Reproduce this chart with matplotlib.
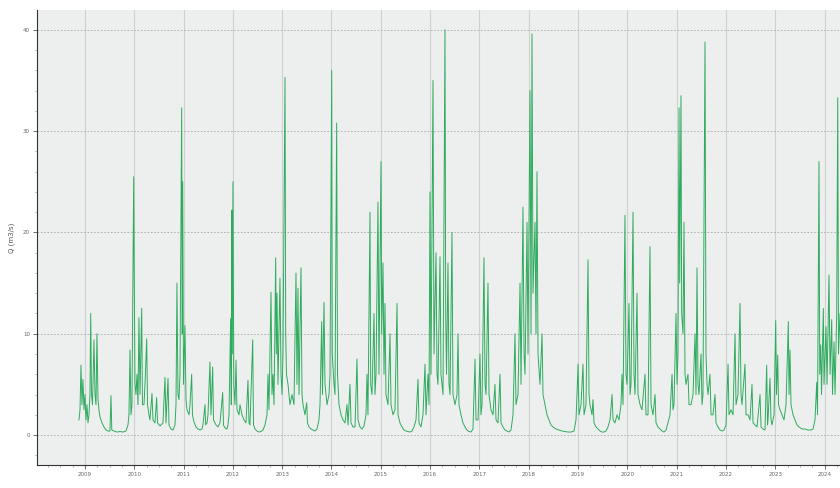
import numpy as np
import matplotlib
matplotlib.use('Agg')
import matplotlib.pyplot as plt
from matplotlib.ticker import MultipleLocator

# discharge record, time in decimal years, Q in m3/s
t = [2008.878, 2008.899, 2008.919, 2008.939, 2008.959, 2008.980, 2009.000, 2009.020, 2009.041, 2009.061,
     2009.081, 2009.101, 2009.116, 2009.132, 2009.152, 2009.183, 2009.203, 2009.223, 2009.243, 2009.264,
     2009.284, 2009.304, 2009.345, 2009.385, 2009.426, 2009.466, 2009.507, 2009.527, 2009.544, 2009.588,
     2009.649, 2009.710, 2009.771, 2009.831, 2009.872, 2009.892, 2009.913, 2009.933, 2009.953, 2009.988,
     2010.000, 2010.014, 2010.034, 2010.055, 2010.075, 2010.095, 2010.116, 2010.150, 2010.166, 2010.197,
     2010.217, 2010.252, 2010.268, 2010.298, 2010.318, 2010.359, 2010.379, 2010.420, 2010.454, 2010.471,
     2010.521, 2010.582, 2010.623, 2010.643, 2010.684, 2010.704, 2010.744, 2010.785, 2010.825, 2010.846,
     2010.866, 2010.886, 2010.907, 2010.927, 2010.961, 2010.973, 2010.982, 2010.998, 2011.028, 2011.049,
     2011.069, 2011.110, 2011.130, 2011.164, 2011.180, 2011.211, 2011.252, 2011.292, 2011.333, 2011.373,
     2011.393, 2011.434, 2011.448, 2011.475, 2011.495, 2011.535, 2011.556, 2011.590, 2011.606, 2011.657,
     2011.698, 2011.738, 2011.793, 2011.809, 2011.840, 2011.880, 2011.901, 2011.921, 2011.955, 2011.968,
     2011.976, 2011.988, 2012.002, 2012.018, 2012.043, 2012.063, 2012.083, 2012.124, 2012.144, 2012.185,
     2012.225, 2012.266, 2012.306, 2012.327, 2012.347, 2012.402, 2012.418, 2012.448, 2012.489, 2012.529,
     2012.570, 2012.611, 2012.651, 2012.692, 2012.712, 2012.732, 2012.773, 2012.793, 2012.813, 2012.834,
     2012.868, 2012.880, 2012.895, 2012.915, 2012.955, 2012.976, 2012.996, 2013.016, 2013.057, 2013.071,
     2013.087, 2013.118, 2013.158, 2013.199, 2013.239, 2013.280, 2013.300, 2013.320, 2013.341, 2013.381,
     2013.402, 2013.422, 2013.462, 2013.497, 2013.513, 2013.544, 2013.584, 2013.625, 2013.665, 2013.706,
     2013.746, 2013.767, 2013.801, 2013.817, 2013.848, 2013.868, 2013.909, 2013.949, 2013.970, 2014.004,
     2014.016, 2014.051, 2014.071, 2014.105, 2014.122, 2014.152, 2014.193, 2014.233, 2014.274, 2014.314,
     2014.335, 2014.375, 2014.396, 2014.436, 2014.477, 2014.517, 2014.538, 2014.578, 2014.619, 2014.659,
     2014.700, 2014.720, 2014.740, 2014.781, 2014.795, 2014.821, 2014.862, 2014.882, 2014.903, 2014.943,
     2014.963, 2015.004, 2015.018, 2015.045, 2015.065, 2015.085, 2015.105, 2015.146, 2015.187, 2015.207,
     2015.247, 2015.288, 2015.329, 2015.349, 2015.389, 2015.430, 2015.471, 2015.511, 2015.552, 2015.592,
     2015.633, 2015.673, 2015.714, 2015.754, 2015.775, 2015.815, 2015.856, 2015.897, 2015.917, 2015.957,
     2015.978, 2015.998, 2016.018, 2016.059, 2016.079, 2016.120, 2016.140, 2016.160, 2016.201, 2016.221,
     2016.262, 2016.302, 2016.316, 2016.333, 2016.363, 2016.383, 2016.404, 2016.444, 2016.464, 2016.505,
     2016.546, 2016.566, 2016.586, 2016.627, 2016.667, 2016.708, 2016.748, 2016.789, 2016.830, 2016.870,
     2016.911, 2016.931, 2016.972, 2017.012, 2017.032, 2017.053, 2017.093, 2017.114, 2017.134, 2017.174,
     2017.195, 2017.235, 2017.276, 2017.316, 2017.337, 2017.377, 2017.418, 2017.438, 2017.479, 2017.519,
     2017.560, 2017.600, 2017.641, 2017.682, 2017.722, 2017.742, 2017.783, 2017.824, 2017.844, 2017.884,
     2017.905, 2017.925, 2017.966, 2017.986, 2018.026, 2018.047, 2018.067, 2018.087, 2018.128, 2018.148,
     2018.168, 2018.189, 2018.229, 2018.270, 2018.290, 2018.331, 2018.371, 2018.412, 2018.452, 2018.493,
     2018.554, 2018.615, 2018.675, 2018.736, 2018.797, 2018.858, 2018.919, 2018.959, 2018.980, 2019.000,
     2019.020, 2019.061, 2019.101, 2019.122, 2019.162, 2019.203, 2019.223, 2019.243, 2019.284, 2019.304,
     2019.325, 2019.365, 2019.406, 2019.446, 2019.487, 2019.527, 2019.568, 2019.608, 2019.649, 2019.690,
     2019.710, 2019.750, 2019.791, 2019.831, 2019.872, 2019.892, 2019.913, 2019.953, 2019.973, 2019.994,
     2020.034, 2020.055, 2020.075, 2020.116, 2020.136, 2020.156, 2020.197, 2020.217, 2020.258, 2020.298,
     2020.359, 2020.379, 2020.420, 2020.460, 2020.481, 2020.521, 2020.562, 2020.582, 2020.623, 2020.663,
     2020.704, 2020.744, 2020.785, 2020.825, 2020.866, 2020.907, 2020.927, 2020.947, 2020.988, 2021.008,
     2021.028, 2021.049, 2021.063, 2021.089, 2021.103, 2021.130, 2021.150, 2021.170, 2021.191, 2021.231,
     2021.252, 2021.292, 2021.333, 2021.373, 2021.393, 2021.414, 2021.434, 2021.454, 2021.495, 2021.515,
     2021.535, 2021.576, 2021.596, 2021.617, 2021.637, 2021.677, 2021.698, 2021.738, 2021.779, 2021.799,
     2021.840, 2021.880, 2021.921, 2021.961, 2022.002, 2022.043, 2022.063, 2022.103, 2022.144, 2022.185,
     2022.205, 2022.245, 2022.286, 2022.306, 2022.327, 2022.387, 2022.408, 2022.448, 2022.489, 2022.529,
     2022.550, 2022.590, 2022.631, 2022.692, 2022.712, 2022.752, 2022.793, 2022.827, 2022.844, 2022.854,
     2022.894, 2022.915, 2022.935, 2022.976, 2023.010, 2023.026, 2023.051, 2023.067, 2023.097, 2023.138,
     2023.178, 2023.219, 2023.266, 2023.280, 2023.300, 2023.320, 2023.361, 2023.402, 2023.442, 2023.483,
     2023.544, 2023.604, 2023.665, 2023.726, 2023.767, 2023.807, 2023.842, 2023.858, 2023.888, 2023.903,
     2023.923, 2023.939, 2023.976, 2023.990, 2024.030, 2024.051, 2024.091, 2024.112, 2024.146, 2024.162,
     2024.193, 2024.213, 2024.247, 2024.268, 2024.284, 2024.314, 2024.355]

q = [1.5, 2.5, 6.9, 3, 5.5, 2.5, 4, 1.5, 3, 1.2,
     2, 4, 12, 4, 3, 9.4, 4, 3, 10, 3.5,
     2.5, 1.8, 1.2, 0.8, 0.5, 0.4, 0.4, 3.9, 0.5, 0.4,
     0.3, 0.35, 0.3, 0.4, 1, 2, 8.4, 2, 3, 25.5,
     15, 5, 4, 6, 3, 11.6, 4, 12.5, 3, 3,
     5, 9.5, 3, 2, 1.5, 4.1, 1.5, 1.2, 3.7, 1.2,
     0.9, 1.2, 5.7, 1.2, 5.6, 1, 0.6, 0.5, 1, 3,
     15, 4, 3.5, 6, 32.3, 10, 25, 5, 10.8, 3.5,
     2.5, 2, 3, 6, 2, 1.3, 0.8, 0.6, 0.5, 0.6,
     1, 3, 1, 1.2, 2, 7.2, 2, 6.7, 1.5, 1,
     0.8, 1.2, 4.2, 1, 0.7, 0.6, 1, 2, 11.5, 3,
     22.2, 8, 25, 5, 3, 7.4, 2.5, 2, 3, 2,
     1.5, 1.2, 5.4, 1.2, 1, 9.4, 1, 0.6, 0.4, 0.3,
     0.35, 0.5, 1, 2, 6, 2.5, 14.1, 4, 6, 3,
     17.5, 8, 14, 5, 15.5, 6, 4, 8, 35.3, 10,
     6, 5, 3, 4, 3, 16, 5, 14.5, 4, 16.5,
     4, 3, 2, 3.2, 1.2, 0.8, 0.6, 0.5, 0.4, 0.6,
     1.5, 3, 11.2, 4, 13.1, 5, 3, 4, 6, 36,
     8, 5, 4, 30.8, 6, 3, 2, 1.5, 1.2, 3,
     1, 5, 1.2, 0.8, 0.8, 7.5, 1.5, 0.8, 0.6, 0.9,
     2, 6, 2, 22, 5, 4, 12, 4, 6, 23,
     6, 27, 10, 17, 6, 13, 4, 3, 10, 3,
     2, 2.5, 13, 2, 1.2, 0.8, 0.5, 0.4, 0.35, 0.3,
     0.4, 0.8, 1.5, 5.5, 1.2, 0.8, 2, 7, 2, 6,
     3, 24, 6, 35, 8, 18, 6, 5, 17.6, 6,
     4, 40, 12, 6, 17, 5, 4, 20, 4, 3,
     4, 10, 3, 2, 1.2, 0.8, 0.5, 0.35, 0.3, 0.6,
     7.5, 1.5, 1.5, 8, 2, 3, 17.5, 5, 4, 15,
     4, 2.5, 2, 5, 1.5, 1.2, 6, 1.2, 0.8, 0.5,
     0.4, 0.3, 0.5, 2, 10, 3, 4, 15, 5, 22.5,
     8, 6, 21, 8, 34, 10, 39.6, 14, 21, 10,
     26, 8, 5, 10, 4, 3, 2, 1.5, 1, 0.8,
     0.6, 0.5, 0.4, 0.35, 0.3, 0.3, 0.4, 1.5, 4, 7,
     2, 3, 7, 2, 3, 17.3, 4, 3, 2, 3.5,
     1.2, 0.8, 0.6, 0.4, 0.3, 0.3, 0.4, 0.8, 1.5, 4,
     1.5, 1.2, 2, 1.5, 3, 6, 3, 21.7, 6, 5,
     13, 4, 5, 22, 6, 4, 14, 4, 3, 2.5,
     6, 2, 2, 18.6, 3, 2, 4, 1.2, 0.8, 0.6,
     0.4, 0.3, 0.5, 1.2, 2, 6, 2.5, 3, 12, 5,
     8, 32.3, 15, 33.5, 12, 10, 21, 6, 5, 6,
     3, 3, 4, 10, 4, 16.5, 5, 4, 8, 3,
     4, 38.8, 8, 5, 4, 6, 2, 2, 4, 1.2,
     0.8, 0.5, 0.4, 0.5, 1, 7, 2, 2.5, 2, 10,
     3, 4, 13, 4, 3, 7, 2, 2, 1.5, 5,
     1.2, 1, 0.8, 4, 0.8, 0.6, 0.5, 6.9, 1, 1.5,
     5.6, 1.5, 1, 2, 11.3, 4, 7.9, 3, 2.5, 2,
     1.5, 3, 11.2, 4, 8.4, 3, 2, 1.5, 1, 0.8,
     0.6, 0.6, 0.5, 0.5, 0.6, 1.5, 5.2, 2, 27, 6,
     8.9, 4, 12.5, 5, 10.7, 5, 15.8, 6, 11.4, 4,
     9.2, 4, 12, 33.3, 8, 12, 5]

years = list(range(2009, 2025))
y_ticks = [0, 10, 20, 30, 40]

fig = plt.figure(figsize=(8.4, 4.88), dpi=100)
ax = fig.add_axes([0.044, 0.047, 0.956, 0.933])
ax.set_facecolor('#edefee')

ax.plot(t, q, color='#2eab5e', lw=0.7)

ax.set_xlim(2008.026, 2024.314)
ax.set_ylim(-2.96, 41.98)

ax.set_xticks(years)
ax.set_xticklabels([str(y) for y in years])
ax.xaxis.set_minor_locator(MultipleLocator(0.25))
ax.set_yticks(y_ticks)
ax.yaxis.set_minor_locator(MultipleLocator(2))

ax.tick_params(axis='both', which='major', labelsize=4, labelcolor='#666666',
               length=3, width=0.6, color='#555555', pad=2)
ax.tick_params(axis='both', which='minor', length=1.5, width=0.4, color='#777777')

ax.grid(axis='y', which='major', color='#a8a8a8', ls=(0, (2, 2)), lw=0.6)
ax.grid(axis='x', which='major', color='#cfd1d0', ls='-', lw=0.8)

for s in ['top', 'right']:
    ax.spines[s].set_visible(False)
for s in ['left', 'bottom']:
    ax.spines[s].set_color('#333333')
    ax.spines[s].set_linewidth(0.8)

ax.set_ylabel('Q (m3/s)', fontsize=5, color='#555555', labelpad=6)

fig.savefig('out.png', dpi=100)
